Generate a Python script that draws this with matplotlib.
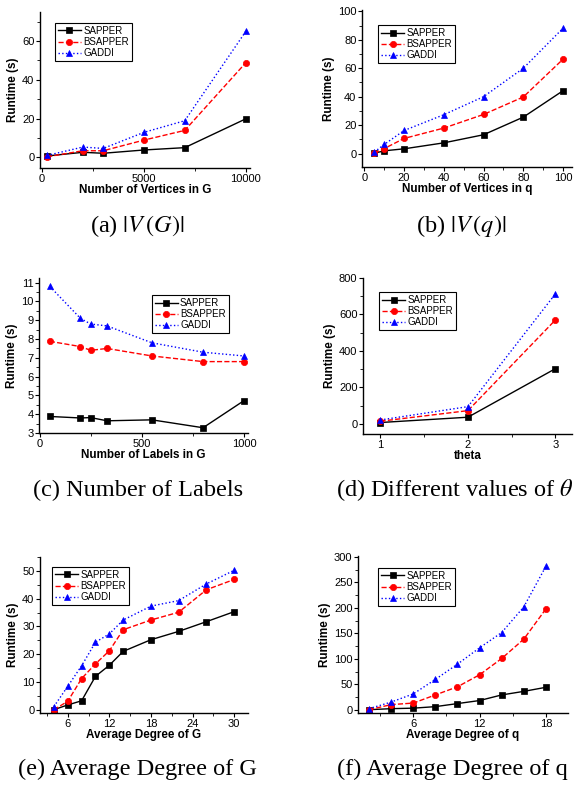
import matplotlib
matplotlib.use("Agg")
import matplotlib.pyplot as plt
from matplotlib.ticker import MultipleLocator, FixedLocator

plt.rcParams['font.family'] = ['Liberation Sans', 'DejaVu Sans']
plt.rcParams['mathtext.fontset'] = 'stix'

series_names = ["SAPPER", "BSAPPER", "GADDI"]

# (a) vertices in G
a_x = [250, 2000, 3000, 5000, 7000, 10000]
a_sapper = [0.7, 2.6, 2.1, 3.8, 5.0, 19.9]
a_bsapper = [0.3, 3.4, 3.4, 8.9, 13.9, 48.9]
a_gaddi = [1.0, 5.3, 4.6, 12.9, 18.9, 65.1]

# (b) vertices in q
b_x = [5, 10, 20, 40, 60, 80, 100]
b_sapper = [0.2, 1.9, 3.3, 7.5, 13.2, 25.6, 44.2]
b_bsapper = [0.3, 3.5, 10.6, 17.9, 27.5, 39.8, 66.4]
b_gaddi = [1.0, 6.4, 16.2, 27.3, 40.0, 60.0, 88.2]

# (c) number of labels
c_x = [50, 200, 250, 330, 550, 800, 1000]
c_sapper = [3.88, 3.8, 3.82, 3.65, 3.7, 3.28, 4.72]
c_bsapper = [7.88, 7.6, 7.4, 7.5, 7.1, 6.8, 6.8]
c_gaddi = [10.8, 9.1, 8.8, 8.7, 7.8, 7.3, 7.1]

# (d) theta
d_x = [1, 2, 3]
d_sapper = [8, 37, 303]
d_bsapper = [15, 73, 570]
d_gaddi = [22, 95, 713]

# (e) average degree of G
e_x = [4, 6, 8, 10, 12, 14, 18, 22, 26, 30]
e_sapper = [0.0, 1.7, 3.2, 12.0, 16.0, 21.0, 25.2, 28.2, 31.7, 35.3]
e_bsapper = [0.0, 3.0, 11.2, 16.5, 21.2, 28.8, 32.3, 35.1, 43.2, 46.9]
e_gaddi = [1.1, 8.4, 15.8, 24.3, 27.3, 32.3, 37.3, 39.3, 45.3, 50.2]

# (f) average degree of q
f_x = [2, 4, 6, 8, 10, 12, 14, 16, 18]
f_sapper = [0, 2, 3, 6, 12, 18, 29, 36, 44]
f_bsapper = [0, 10, 13, 29, 45, 68.6, 100.6, 138.6, 198]
f_gaddi = [2, 15, 31, 59.5, 89.5, 121.6, 151.6, 202, 281.7]

W, H = 576, 785
fig = plt.figure(figsize=(W / 100, H / 100), dpi=100)


def make_ax(l, t, r, b):
    return fig.add_axes([l / W, 1 - b / H, (r - l) / W, (b - t) / H])


styles = [
    dict(color='black', linestyle='-', marker='s'),
    dict(color='red', linestyle='--', marker='o'),
    dict(color='blue', linestyle=':', marker='^'),
]


def panel(box, x, ys, xlim, ylim, xmaj, xmin, ymaj, ymin, xlabel, legloc, xticks=None):
    ax = make_ax(*box)
    for y, st, name in zip(ys, styles, series_names):
        ax.plot(x, y, lw=1.0, ms=4.5, markeredgewidth=0.5, markeredgecolor=st['color'],
                label=name, **st)
    ax.set_xlim(*xlim)
    ax.set_ylim(*ylim)
    if xticks is not None:
        ax.xaxis.set_major_locator(FixedLocator(xticks))
    else:
        ax.xaxis.set_major_locator(MultipleLocator(xmaj))
    ax.xaxis.set_minor_locator(MultipleLocator(xmin))
    ax.yaxis.set_major_locator(MultipleLocator(ymaj))
    ax.yaxis.set_minor_locator(MultipleLocator(ymin))
    for s in ['top', 'right']:
        ax.spines[s].set_visible(False)
    for s in ['left', 'bottom']:
        ax.spines[s].set_linewidth(1.0)
    ax.tick_params(which='major', direction='out', length=3, width=0.8, labelsize=8, pad=1)
    ax.tick_params(which='minor', direction='out', length=2, width=0.6)
    ax.set_xlabel(xlabel, fontsize=8.4, fontweight='bold', labelpad=0)
    ax.set_ylabel("Runtime (s)", fontsize=8.4, fontweight='bold', labelpad=2)
    leg = ax.legend(loc='upper left', bbox_to_anchor=legloc, fontsize=7, frameon=True,
                    fancybox=False, edgecolor='black', framealpha=1, handlelength=2.4,
                    handletextpad=0.2, borderpad=0.3, labelspacing=0.12, borderaxespad=0)
    leg.get_frame().set_linewidth(0.8)
    return ax


panel((40, 12, 250, 168), a_x, [a_sapper, a_bsapper, a_gaddi], (-100, 10200), (-5.5, 75),
      5000, 2500, 20, 10, "Number of Vertices in G", (0.071, 0.93), xticks=[0, 5000, 10000])
panel((362, 10, 572, 167), b_x, [b_sapper, b_bsapper, b_gaddi], (-1.2, 104.5), (-9.5, 101),
      20, 10, 20, 10, "Number of Vertices in q", (0.076, 0.904))
panel((39, 278, 248, 433), c_x, [c_sapper, c_bsapper, c_gaddi], (-3, 1020), (3, 11.25),
      500, 250, 1, 0.5, "Number of Labels in G", (0.54, 0.89))
panel((363, 278, 572, 434), d_x, [d_sapper, d_bsapper, d_gaddi], (0.8, 3.19), (-55, 800),
      1, 0.5, 200, 100, "theta", (0.077, 0.91))
panel((40, 557, 248, 713), e_x, [e_sapper, e_bsapper, e_gaddi], (2, 32), (-1.2, 55),
      6, 3, 10, 5, "Average Degree of G", (0.058, 0.936))
panel((358, 556, 568, 713), f_x, [f_sapper, f_bsapper, f_gaddi], (1, 20), (-6.5, 302),
      6, 3, 50, 25, "Average Degree of q", (0.095, 0.924))

cap = dict(fontsize=17.5, family=['Liberation Serif', 'DejaVu Serif'], ha='center', va='center')
fig.text(137 / W, 1 - 226 / H, r"(a) $|V\,(G)|$", **cap)
fig.text(461 / W, 1 - 226 / H, r"(b) $|V\,(q)|$", **cap)
fig.text(138 / W, 1 - 490 / H, "(c) Number of Labels", **cap)
fig.text(574 / W, 1 - 490 / H, r"(d) Different values of $\theta$",
         **{**cap, 'ha': 'right'})
fig.text(137 / W, 1 - 769 / H, "(e) Average Degree of G", **cap)
fig.text(452 / W, 1 - 769 / H, "(f) Average Degree of q", **cap)

fig.savefig("out.png", dpi=100)
